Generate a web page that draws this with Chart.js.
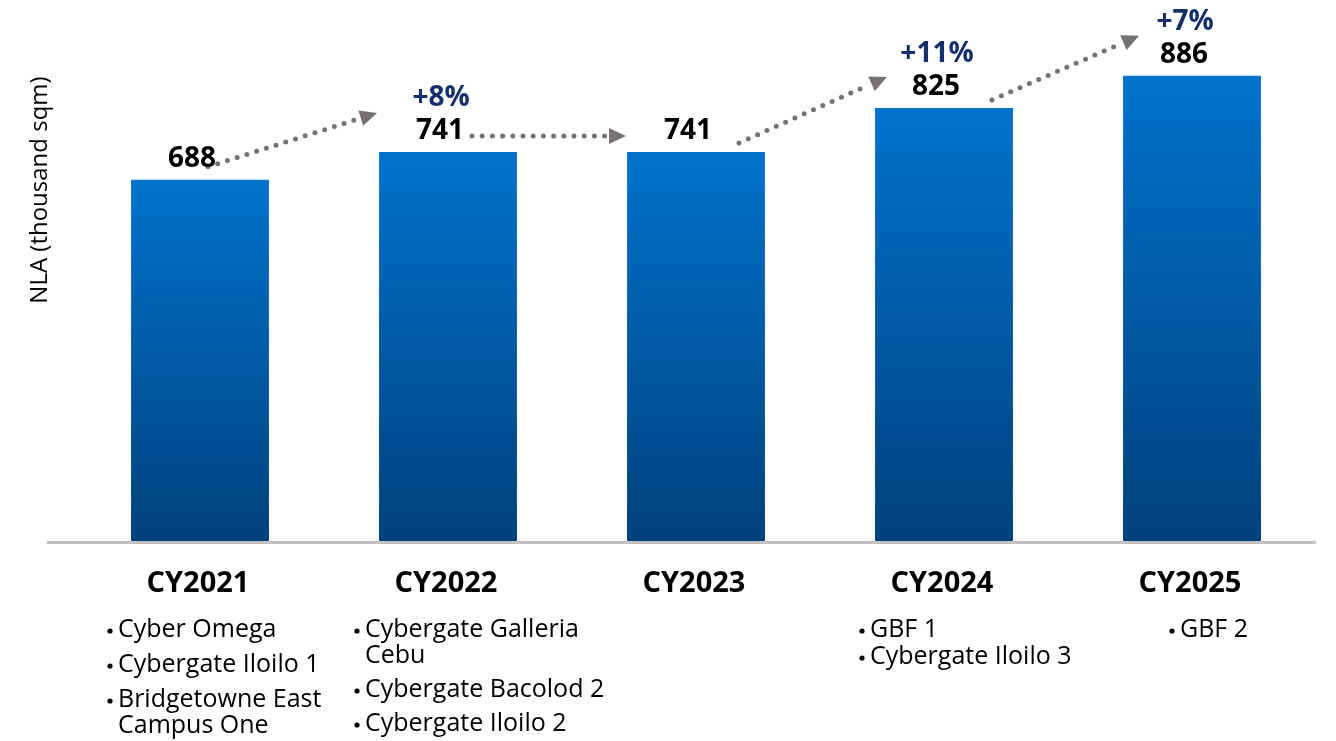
<!DOCTYPE html>
<html>
<head>
<meta charset="utf-8">
<script src="https://cdn.jsdelivr.net/npm/chart.js@4"></script>
<style>
  html, body { margin: 0; padding: 0; background: #fff; }
  canvas { display: block; }
</style>
</head>
<body>
<canvas id="grafico" width="1336" height="741"></canvas>
<script>
// NLA por ano
const anos = ["CY2021", "CY2022", "CY2023", "CY2024", "CY2025"];
const nla = [688, 741, 741, 825, 886];
const crescimento = ["", "+8%", "", "+11%", "+7%"];
const projetos = [
    ["Cyber Omega", "Cybergate Iloilo 1", "Bridgetowne East\nCampus One"],
    ["Cybergate Galleria\nCebu", "Cybergate Bacolod 2", "Cybergate Iloilo 2"],
    [],
    ["GBF 1", "Cybergate Iloilo 3"],
    ["GBF 2"]
];
// setas pontilhadas: de um ano para o seguinte
const setas = [[0, 1], [1, 2], [2, 3], [3, 4]];

// ajustes de desenho (px)
const setaInicio = [[8, -13], [24, -16], [43, -9], [48, -8]];
const setaFim = [[-71, -39], [-70, -16], [-57, -31], [-53, -40]];
const listaX = [-95, -96, 0, -87, -25];
const listaEspaco = [35, 34, 0, 27, 27];

const fonte = "'Open Sans', 'Noto Sans', sans-serif";

const gradienteBarra = (context) => {
    const chart = context.chart;
    const y = chart.scales.y;
    if (!chart.chartArea || !y) return "#0070c8";
    const topo = y.getPixelForValue(context.raw);
    const base = y.getPixelForValue(0);
    const g = chart.ctx.createLinearGradient(0, topo, 0, base);
    g.addColorStop(0, "#0072cc");
    g.addColorStop(1, "#01417c");
    return g;
};

const desenhaSeta = (ctx, x1, y1, x2, y2) => {
    const ang = Math.atan2(y2 - y1, x2 - x1);
    const ponta = 17;
    const xb = x2 - Math.cos(ang) * ponta;
    const yb = y2 - Math.sin(ang) * ponta;
    ctx.save();
    ctx.strokeStyle = "#777272";
    ctx.fillStyle = "#777272";
    ctx.lineWidth = 5;
    ctx.lineCap = "round";
    ctx.setLineDash([0, 10.2]);
    ctx.beginPath();
    ctx.moveTo(x1, y1);
    ctx.lineTo(xb - Math.cos(ang) * 4, yb - Math.sin(ang) * 4);
    ctx.stroke();
    ctx.setLineDash([]);
    ctx.beginPath();
    ctx.moveTo(x2, y2);
    ctx.lineTo(xb + Math.sin(ang) * 8, yb - Math.cos(ang) * 8);
    ctx.lineTo(xb - Math.sin(ang) * 8, yb + Math.cos(ang) * 8);
    ctx.closePath();
    ctx.fill();
    ctx.restore();
};

const rotulos = {
    id: "rotulos",
    afterDatasetsDraw(chart) {
        const ctx = chart.ctx;
        const x = chart.scales.x;
        const y = chart.scales.y;
        const base = y.getPixelForValue(0);

        // linha do eixo
        ctx.save();
        ctx.strokeStyle = "#bfbfbf";
        ctx.lineWidth = 3;
        ctx.beginPath();
        ctx.moveTo(47, base + 1.5);
        ctx.lineTo(1316, base + 1.5);
        ctx.stroke();

        // setas
        setas.forEach(([de, para], i) => {
            const x1 = x.getPixelForValue(de) + setaInicio[i][0];
            const y1 = y.getPixelForValue(nla[de]) + setaInicio[i][1];
            const x2 = x.getPixelForValue(para) + setaFim[i][0];
            const y2 = y.getPixelForValue(nla[para]) + setaFim[i][1];
            desenhaSeta(ctx, x1, y1, x2, y2);
        });

        ctx.textAlign = "center";
        ctx.textBaseline = "middle";
        anos.forEach((ano, i) => {
            const cx = x.getPixelForValue(i);
            const topo = y.getPixelForValue(nla[i]);

            ctx.fillStyle = "#000";
            ctx.font = `bold 28px ${fonte}`;
            ctx.fillText(String(nla[i]), cx - 8, topo - 21);

            if (crescimento[i]) {
                ctx.fillStyle = "#142f6c";
                ctx.font = `bold 28px ${fonte}`;
                ctx.fillText(crescimento[i], cx - 7, topo - 54);
            }

            ctx.fillStyle = "#000";
            ctx.font = `bold 29px ${fonte}`;
            ctx.fillText(ano, cx - 2, 584);
        });

        // lista de projetos
        ctx.textAlign = "left";
        ctx.fillStyle = "#000";
        projetos.forEach((lista, i) => {
            const left = x.getPixelForValue(i) + listaX[i];
            let linhaY = 630;
            lista.forEach((item) => {
                const linhas = item.split("\n");
                ctx.beginPath();
                ctx.arc(left + 5, linhaY + 1, 2.6, 0, Math.PI * 2);
                ctx.fill();
                ctx.font = `25px ${fonte}`;
                ctx.fillText(linhas[0], left + 13, linhaY);
                for (let k = 1; k < linhas.length; k++) {
                    linhaY += 26;
                    ctx.fillText(linhas[k], left + 13, linhaY);
                }
                linhaY += listaEspaco[i];
            });
        });

        // título do eixo y
        ctx.translate(40, 190);
        ctx.rotate(-Math.PI / 2);
        ctx.textAlign = "center";
        ctx.font = `24px ${fonte}`;
        ctx.fillText("NLA (thousand sqm)", 0, 0);
        ctx.restore();
    }
};

const grafico = new Chart(document.getElementById("grafico"), {
    type: "bar",
    data: {
        labels: anos,
        datasets: [{
            label: "NLA",
            data: nla,
            backgroundColor: gradienteBarra,
            barPercentage: 0.556,
            categoryPercentage: 1
        }]
    },
    options: {
        responsive: false,
        animation: false,
        layout: { padding: { left: 76, right: 20, top: 16, bottom: 200 } },
        plugins: {
            legend: { display: false },
            tooltip: { enabled: false }
        },
        scales: {
            x: { display: false },
            y: { display: false, min: 0, max: 1000 }
        }
    },
    plugins: [rotulos]
});
</script>
</body>
</html>
